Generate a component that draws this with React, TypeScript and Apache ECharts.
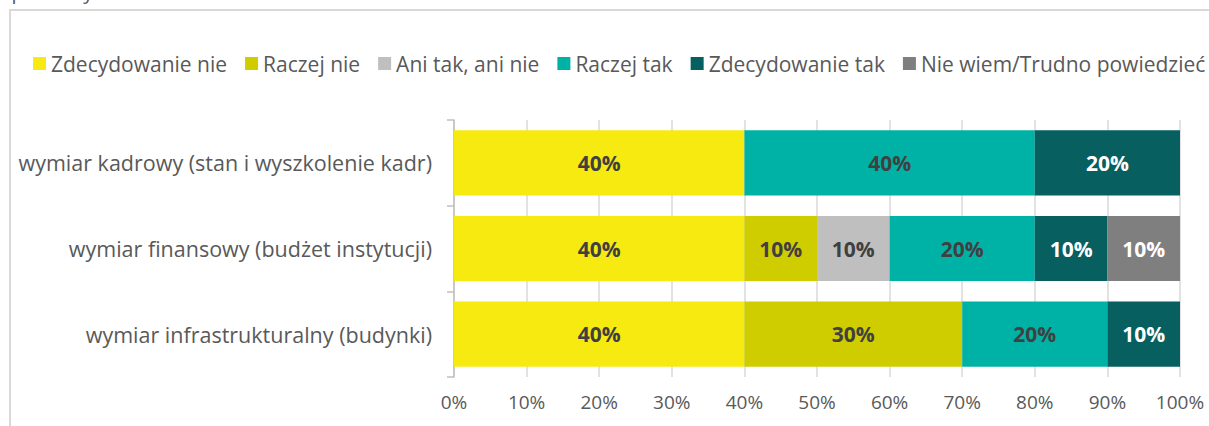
import React, { useEffect, useRef } from "react";
import * as echarts from "echarts";

const categories = [
  "wymiar kadrowy (stan i wyszkolenie kadr)",
  "wymiar finansowy (budżet instytucji)",
  "wymiar infrastrukturalny (budynki)",
];
const seriesNames = [
  "Zdecydowanie nie",
  "Raczej nie",
  "Ani tak, ani nie",
  "Raczej tak",
  "Zdecydowanie tak",
  "Nie wiem/Trudno powiedzieć",
];
const zdecydowanieNie = [40, 40, 40];
const raczejNie = [null, 10, 30];
const aniTakAniNie = [null, 10, null];
const raczejTak = [40, 20, 20];
const zdecydowanieTak = [20, 10, 10];
const nieWiem = [null, 10, null];
const xTicks = [0, 10, 20, 30, 40, 50, 60, 70, 80, 90, 100];

const colors = ["#F6EA10", "#CFCC00", "#BFBFBF", "#00B2A5", "#075F5F", "#7F7F7F"];
const labelColors = ["#404040", "#404040", "#404040", "#404040", "#FFFFFF", "#FFFFFF"];
const FONT = "Open Sans";

export default function App() {
  const ref = useRef<HTMLDivElement>(null);
  useEffect(() => {
    const chart = echarts.init(ref.current!, null, { renderer: "svg" });
    const values = [zdecydowanieNie, raczejNie, aniTakAniNie, raczejTak, zdecydowanieTak, nieWiem];
    chart.setOption({
      animation: false,
      textStyle: { fontFamily: FONT },
      graphic: [
        {
          type: "text",
          left: 2,
          top: -19,
          style: { text: "społecznych", fontSize: 20, fill: "#595959", fontFamily: FONT },
        },
        {
          type: "rect",
          shape: { x: 10, y: 10, width: 1300, height: 500 },
          style: { fill: "none", stroke: "#D9D9D9", lineWidth: 2 },
          silent: true,
        },
      ],
      legend: {
        left: 28,
        top: 48,
        width: 1400,
        itemWidth: 13,
        itemHeight: 13,
        itemGap: 18,
        icon: "rect",
        data: seriesNames,
        textStyle: { fontSize: 21, color: "#595959", fontFamily: FONT, padding: [0, 0, 0, 0] },
      },
      grid: { left: 454, right: 29, top: 120, bottom: 49 },
      xAxis: {
        type: "value",
        min: xTicks[0],
        max: xTicks[xTicks.length - 1],
        interval: 10,
        axisLine: { show: false },
        axisTick: { show: false },
        splitLine: { lineStyle: { color: "#D9D9D9", width: 1.5 } },
        axisLabel: { formatter: "{value}%", fontSize: 19, color: "#595959", margin: 15, fontFamily: FONT },
      },
      yAxis: {
        type: "category",
        inverse: true,
        data: categories,
        axisLine: { lineStyle: { color: "#BFBFBF", width: 1.5 } },
        axisTick: { show: true, length: 7, lineStyle: { color: "#BFBFBF", width: 1.5 } },
        axisLabel: { fontSize: 21.5, color: "#595959", margin: 22, fontFamily: FONT },
      },
      series: seriesNames.map((name, i) => ({
        name,
        type: "bar",
        stack: "total",
        barCategoryGap: "24%",
        data: values[i],
        itemStyle: { color: colors[i] },
        label: {
          show: true,
          position: "inside",
          formatter: "{c}%",
          fontSize: 21,
          fontWeight: "bold",
          color: labelColors[i],
          fontFamily: FONT,
        },
      })),
    });
    return () => chart.dispose();
  }, []);
  return (
    <div
      ref={ref}
      style={{ position: "fixed", left: 0, top: 0, width: 1209, height: 426, background: "#fff" }}
    />
  );
}
